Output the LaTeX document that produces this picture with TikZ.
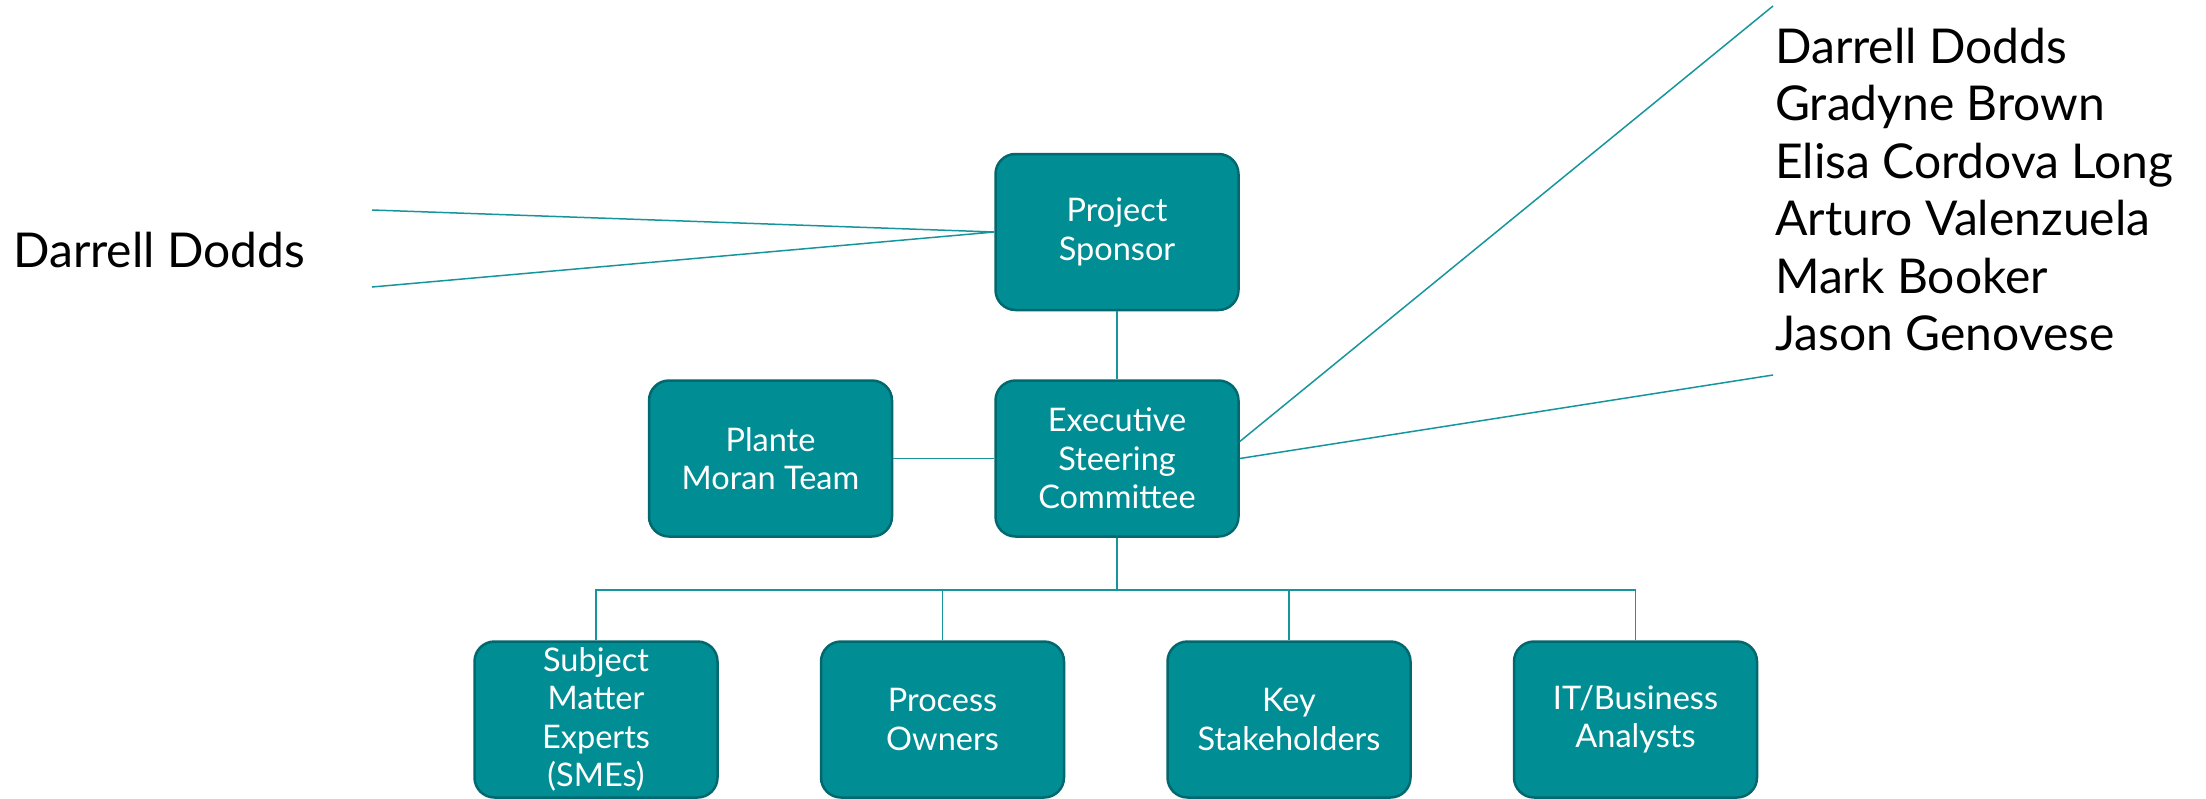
\documentclass[tikz,border=0pt]{standalone}
\usepackage{fontspec}
\setmainfont{Lato}
\definecolor{boxfill}{RGB}{0,142,148}
\definecolor{boxedge}{RGB}{0,104,110}
\definecolor{linkcol}{RGB}{22,150,156}
\begin{document}
\begin{tikzpicture}[x=1pt,y=-1pt,
  orgbox/.style={rectangle, rounded corners=20pt, draw=boxedge, line width=2.5pt,
    fill=boxfill, minimum width=243pt, minimum height=156pt, inner sep=0pt,
    align=center, text=white, font=\fontsize{32.5}{38.5}\selectfont},
  link/.style={draw=linkcol, line width=1.5pt},
  namelab/.style={anchor=base west, inner sep=0pt, font=\fontsize{48}{57.5}\selectfont}]
\useasboundingbox (0,0) rectangle (2206,798);
\clip (0,0) rectangle (2206,798);
% boxes
\node[orgbox] (sp) at (1117,232) {Project\\Sponsor};
\node[orgbox] (ex) at (1117,458.5) {Executive\\Steering\\Committee};
\node[orgbox] (pm) at (770.5,458.5) {Plante\\Moran Team};
\node[orgbox] (sme) at (596,719.5) {Subject\\Matter\\Experts\\(SMEs)};
\node[orgbox] (po) at (942.5,719.5) {Process\\Owners};
\node[orgbox] (ks) at (1289,719.5) {Key\\Stakeholders};
\node[orgbox] (it) at (1635.5,719.5) {IT/Business\\Analysts};
% tree connectors
\coordinate (bus) at (1117,590);
\draw[link] (sp.south) -- (ex.north);
\draw[link] (pm.east) -- (ex.west);
\draw[link] (ex.south) -- (bus);
\draw[link] (sme.north) -- (sme.north |- bus) -- (it.north |- bus) -- (it.north);
\draw[link] (po.north) -- (po.north |- bus);
\draw[link] (ks.north) -- (ks.north |- bus);
% left callout
\coordinate (lt) at (372,210);
\coordinate (lb) at (372,287);
\draw[link] (lt) -- (sp.west) -- (lb);
\node[namelab] (lname) at (13,267) {Darrell Dodds};
% right callout
\coordinate (rt) at (1773,6);
\coordinate (rb) at (1773,375);
\draw[link] ([yshift=17pt]ex.east) -- (rt);
\draw[link] (ex.east) -- (rb);
\node[namelab] (r1) at (1775,63) {Darrell Dodds};
\node[namelab] (r2) at (1775,120.5) {Gradyne Brown};
\node[namelab] (r3) at (1775,178) {Elisa Cordova Long};
\node[namelab] (r4) at (1775,235.5) {Arturo Valenzuela};
\node[namelab] (r5) at (1775,293) {Mark Booker};
\node[namelab] (r6) at (1775,350.5) {Jason Genovese};
\end{tikzpicture}
\end{document}
